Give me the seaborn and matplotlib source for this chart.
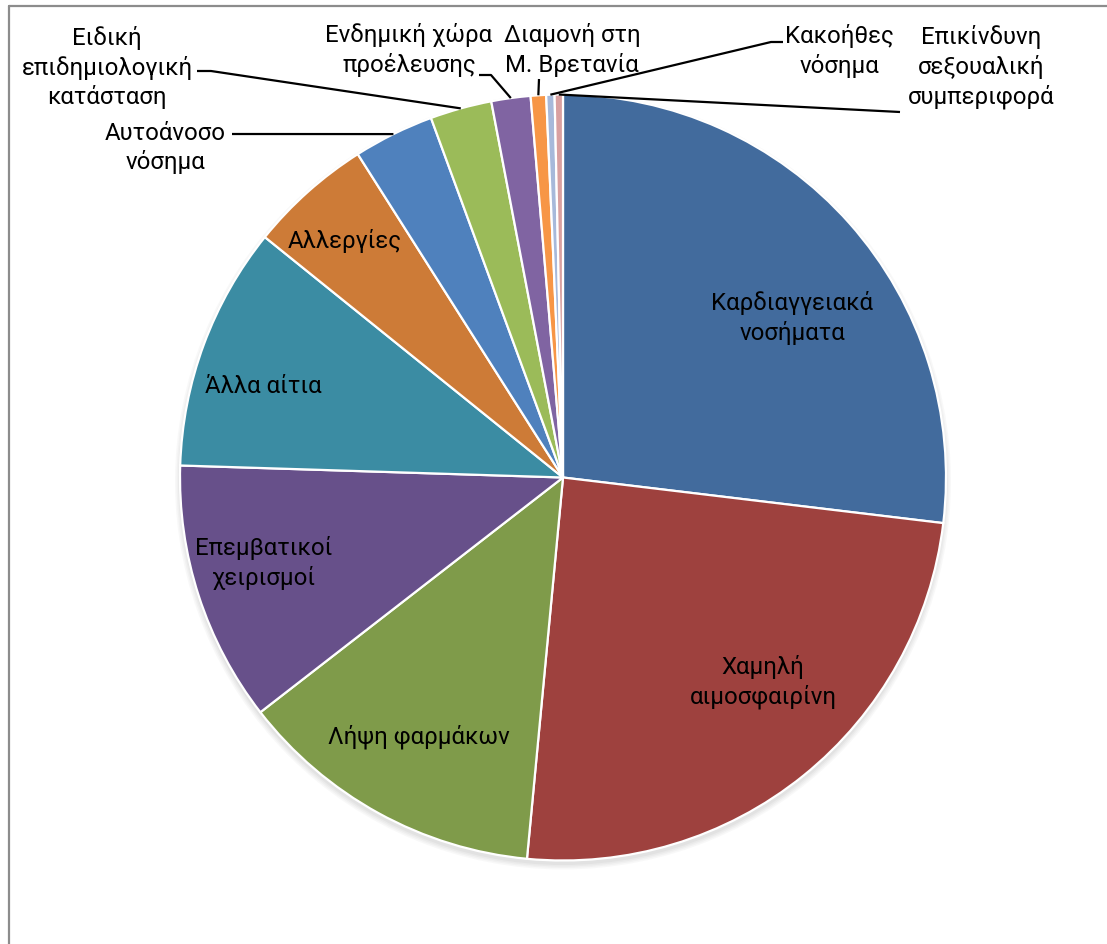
import matplotlib
matplotlib.use("Agg")
import matplotlib.pyplot as plt
from matplotlib.patches import Circle
from matplotlib.lines import Line2D
import numpy as np
import seaborn as sns

sns.set_theme(style="white")
plt.rcParams["font.family"] = ["Roboto", "DejaVu Sans"]

# Causes and their share (%)
categories = [
    "Καρδιαγγειακά\nνοσήματα",
    "Χαμηλή\nαιμοσφαιρίνη",
    "Λήψη φαρμάκων",
    "Επεμβατικοί\nχειρισμοί",
    "Άλλα αίτια",
    "Αλλεργίες",
    "Αυτοάνοσο\nνόσημα",
    "Ειδική\nεπιδημιολογική\nκατάσταση",
    "Ενδημική χώρα\nπροέλευσης",
    "Διαμονή στη\nΜ. Βρετανία",
    "Κακοήθες\nνόσημα",
    "Επικίνδυνη\nσεξουαλική\nσυμπεριφορά",
]
shares = [26.9, 24.6, 13.0, 11.0, 10.3, 5.2, 3.4, 2.6, 1.65, 0.65, 0.35, 0.35]
colors = ["#426B9D", "#9E413E", "#7F9B4A", "#67508A", "#3B8CA3", "#CD7B37",
          "#4F81BD", "#9BBB59", "#8064A2", "#F79646", "#A7B9DA", "#D9A0A0"]

W, H = 1107, 944
fig = plt.figure(figsize=(W / 100, H / 100), dpi=100)
ax = fig.add_axes([0, 0, 1, 1])
ax.set_xlim(0, W)
ax.set_ylim(0, H)
ax.set_aspect("equal")
ax.axis("off")

def py(y):
    # top-down pixel row -> axis y
    return H - y

cx, cy, R = 563, py(477.5), 383

# soft shadow under the pie
for k, a in enumerate([0.05, 0.05, 0.06, 0.07]):
    ax.add_patch(Circle((cx, cy - 4), R + 5 - k * 1.5, color="#808080",
                        alpha=a, lw=0, zorder=1))

wedges, _ = ax.pie(shares, colors=colors, startangle=90, counterclock=False,
                   center=(cx, cy), radius=R, frame=True,
                   wedgeprops=dict(edgecolor="white", linewidth=1.6))
for w in wedges:
    w.set_zorder(2)
ax.set_xlim(0, W)
ax.set_ylim(0, H)
ax.axis("off")

def edge_point(i):
    w = wedges[i]
    t = np.deg2rad((w.theta1 + w.theta2) / 2)
    return cx + R * np.cos(t), cy + R * np.sin(t)

fs = 17.3
ls = 1.31
# labels inside the large slices
inside = {0: (792, 318), 1: (763, 682), 2: (419, 737), 3: (264, 563),
          4: (263, 386), 5: (345, 241)}
for i, (x, y) in inside.items():
    ax.text(x, py(y), categories[i], ha="center", va="center",
            multialignment="center", fontsize=fs, linespacing=ls,
            color="black", zorder=5)

# labels outside with leader lines
outside = {
    6: ((165, 148), [(232, 134)]),
    7: ((107, 67.5), [(197, 71), (211, 71)]),
    8: ((409, 50), [(479, 75), (491, 75)]),
    9: ((572, 50), [(539, 79)]),
    10: ((839, 51), [(783, 42), (771, 42)]),
    11: ((981, 67), [(900, 112)]),
}
for i, ((x, y), pts) in outside.items():
    ax.text(x, py(y), categories[i], ha="center", va="center",
            multialignment="center", fontsize=fs, linespacing=ls,
            color="black", zorder=5)
    ex, ey = edge_point(i)
    xs = [p[0] for p in pts] + [ex]
    ys = [py(p[1]) for p in pts] + [ey]
    ax.plot(xs, ys, color="black", lw=1.6, zorder=4, solid_capstyle="butt")

# chart frame
fig.add_artist(Line2D([9 / W, 1], [1 - 6 / H, 1 - 6 / H], color="#8C8C8C",
                      lw=1.6, transform=fig.transFigure))
fig.add_artist(Line2D([9 / W, 9 / W], [0, 1 - 6 / H], color="#8C8C8C",
                      lw=1.6, transform=fig.transFigure))

fig.savefig("out.png", dpi=100, facecolor="white")
